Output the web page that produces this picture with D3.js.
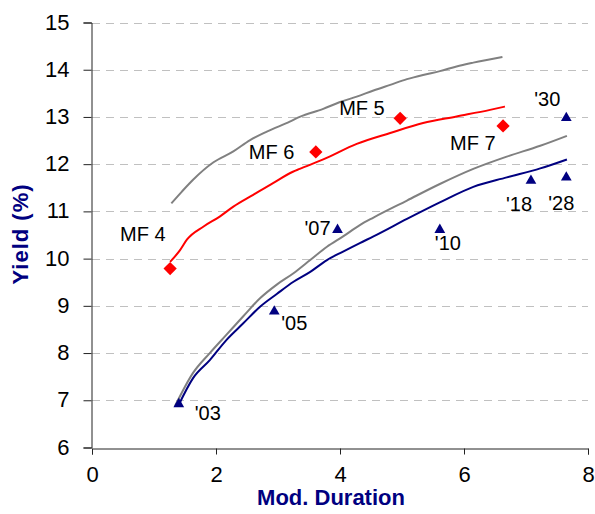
<!DOCTYPE html>
<html>
<head>
<meta charset="utf-8">
<script src="https://cdn.jsdelivr.net/npm/d3@7"></script>
<style>
  body { margin: 0; background: #fff; }
  text { font-family: Arial, "Liberation Sans", sans-serif; }
</style>
</head>
<body>
<div id="chart"></div>
<script>
const WIDTH = 595;
const HEIGHT = 514;

// upper gray curve
const grayHiDur = [1.28, 1.45, 1.63, 1.96, 2.28, 2.55, 2.82, 3.19, 3.35, 3.73, 3.99, 4.27, 4.54, 4.81, 5.08, 5.34, 5.61, 5.88, 6.15, 6.62];
const grayHiYld = [11.17, 11.42, 11.67, 12.04, 12.27, 12.51, 12.69, 12.90, 13.0, 13.17, 13.31, 13.43, 13.56, 13.68, 13.80, 13.89, 13.97, 14.07, 14.15, 14.27];

// red curve
const redDur = [1.26, 1.42, 1.53, 1.80, 2.06, 2.28, 2.60, 2.92, 3.24, 3.35, 3.73, 4.27, 4.81, 5.34, 5.88, 6.42, 6.66];
const redYld = [9.93, 10.18, 10.40, 10.68, 10.89, 11.10, 11.35, 11.60, 11.84, 11.9, 12.1, 12.43, 12.66, 12.87, 13.01, 13.15, 13.22];

// lower gray curve
const grayLoDur = [1.34, 1.63, 1.90, 2.17, 2.44, 2.71, 2.98, 3.25, 3.52, 3.79, 4.05, 4.32, 4.54, 5.08, 5.61, 6.15, 6.69, 7.23, 7.66];
const grayLoYld = [6.88, 7.58, 8.00, 8.39, 8.78, 9.16, 9.45, 9.69, 9.97, 10.25, 10.47, 10.71, 10.87, 11.23, 11.58, 11.9, 12.16, 12.39, 12.6];

// blue curve
const blueDur = [1.39, 1.63, 1.90, 2.17, 2.44, 2.71, 2.98, 3.25, 3.52, 3.79, 4.05, 4.32, 4.54, 5.08, 5.61, 6.15, 6.69, 7.23, 7.66];
const blueYld = [6.88, 7.47, 7.85, 8.28, 8.63, 8.98, 9.25, 9.51, 9.72, 9.97, 10.15, 10.33, 10.47, 10.84, 11.19, 11.52, 11.72, 11.91, 12.10];

// MF points (red diamonds)
const mfNames = ["MF 4", "MF 6", "MF 5", "MF 7"];
const mfDur = [1.26, 3.61, 4.97, 6.63];
const mfYld = [9.79, 12.26, 12.97, 12.81];

// bond points (navy triangles)
const bondNames = ["'03", "'05", "'07", "'10", "'18", "'28", "'30"];
const bondDur = [1.40, 2.94, 3.96, 5.61, 7.08, 7.65, 7.65];
const bondYld = [6.92, 8.88, 10.61, 10.61, 11.65, 11.72, 12.98];

const xTicks = [0, 2, 4, 6, 8];
const yTicks = [6, 7, 8, 9, 10, 11, 12, 13, 14, 15];

// label offsets from the marker, px
const labelOffset = {
  "MF 4": [-50, -28], "MF 6": [-67, 7], "MF 5": [-61, -3], "MF 7": [-53, 24],
  "'03": [16, 16], "'05": [7, 18], "'07": [-33, 5], "'10": [-5, 20],
  "'18": [-25, 30], "'28": [-18, 33], "'30": [-32, -12]
};

const margin = {left: 92, right: 7, top: 22.5, bottom: 66.5};

const svg = d3.select("#chart")
  .append("svg")
    .attr("width", WIDTH)
    .attr("height", HEIGHT);

const x = d3.scaleLinear()
  .domain([0, 8])
  .range([margin.left, WIDTH - margin.right]);

const y = d3.scaleLinear()
  .domain([6, 15])
  .range([HEIGHT - margin.bottom, margin.top]);

// gridlines
svg.append("g")
  .selectAll("line")
  .data(yTicks.filter(d => d > 6))
  .enter().append("line")
    .attr("x1", x(0))
    .attr("x2", x(8))
    .attr("y1", d => Math.round(y(d)) + 0.5)
    .attr("y2", d => Math.round(y(d)) + 0.5)
    .attr("stroke", "#c0c0c0")
    .attr("stroke-dasharray", "8,6");

// axes
const xAxis = svg.append("g")
  .attr("transform", `translate(0,${Math.round(y(6)) + 0.5})`)
  .call(d3.axisBottom(x).tickValues(xTicks).tickSize(6).tickPadding(14).tickFormat(d3.format("d")));

const yAxis = svg.append("g")
  .attr("transform", `translate(${Math.round(x(0)) - 0.5},0)`)
  .call(d3.axisLeft(y).tickValues(yTicks).tickSize(8).tickPadding(14).tickFormat(d3.format("d")));

[xAxis, yAxis].forEach(g => {
  g.select(".domain").attr("stroke", "#222");
  g.selectAll(".tick line").attr("stroke", "#222");
  g.selectAll(".tick text")
    .attr("fill", "#000")
    .style("font-size", "22px")
    .style("font-family", "Arial, 'Liberation Sans', sans-serif");
});
yAxis.selectAll(".tick text").attr("dy", "0.3em");
xAxis.selectAll(".tick text").attr("dy", "0.62em");

// curves
const line = d3.line()
  .curve(d3.curveMonotoneX)
  .x(d => x(d[0]))
  .y(d => y(d[1]));

const curves = [
  {dur: grayHiDur, yld: grayHiYld, color: "#808080"},
  {dur: redDur, yld: redYld, color: "#ff0000"},
  {dur: grayLoDur, yld: grayLoYld, color: "#808080"},
  {dur: blueDur, yld: blueYld, color: "#000080"}
];

svg.selectAll("path.curve")
  .data(curves)
  .enter().append("path")
    .attr("class", "curve")
    .attr("d", c => line(c.dur.map((d, i) => [d, c.yld[i]])))
    .attr("fill", "none")
    .attr("stroke", c => c.color)
    .attr("stroke-width", 2);

// red diamonds
const mf = mfNames.map((n, i) => ({name: n, dur: mfDur[i], yld: mfYld[i]}));
svg.selectAll("path.mf")
  .data(mf)
  .enter().append("path")
    .attr("class", "mf")
    .attr("d", d3.symbol().type(d3.symbolSquare).size(88))
    .attr("transform", d => `translate(${x(d.dur)},${y(d.yld)}) rotate(45)`)
    .attr("fill", "#ff0000");

// navy triangles
const bonds = bondNames.map((n, i) => ({name: n, dur: bondDur[i], yld: bondYld[i]}));
svg.selectAll("path.bond")
  .data(bonds)
  .enter().append("path")
    .attr("class", "bond")
    .attr("d", d3.symbol().type(d3.symbolTriangle).size(50))
    .attr("transform", d => `translate(${x(d.dur)},${y(d.yld)})`)
    .attr("fill", "#000080");

// point labels
svg.selectAll("text.lbl")
  .data(mf.concat(bonds))
  .enter().append("text")
    .attr("class", "lbl")
    .attr("x", d => x(d.dur) + labelOffset[d.name][0])
    .attr("y", d => y(d.yld) + labelOffset[d.name][1])
    .attr("font-size", 20)
    .attr("fill", "#000")
    .text(d => d.name);

// axis titles
svg.append("text")
  .attr("x", 331)
  .attr("y", 505)
  .attr("text-anchor", "middle")
  .attr("font-size", 22)
  .attr("font-weight", "bold")
  .attr("fill", "#000080")
  .text("Mod. Duration");

svg.append("text")
  .attr("transform", "translate(28,234) rotate(-90)")
  .attr("text-anchor", "middle")
  .attr("font-size", 22)
  .attr("font-weight", "bold")
  .attr("letter-spacing", 1)
  .attr("fill", "#000080")
  .text("Yield (%)");
</script>
</body>
</html>
